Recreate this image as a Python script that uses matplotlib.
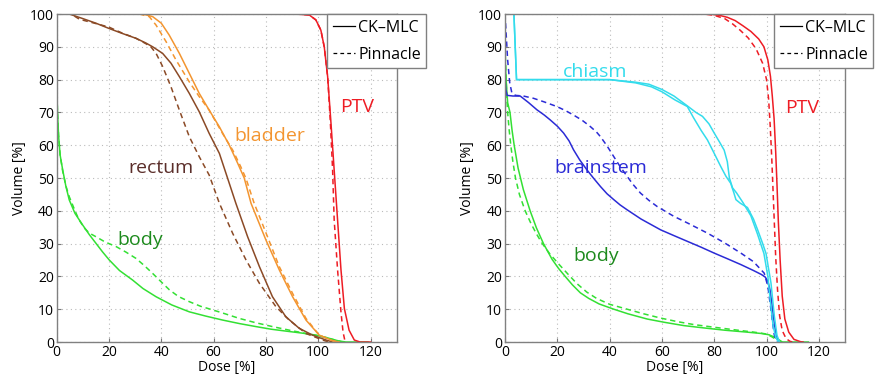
"""Dose-volume histograms: CK-MLC vs Pinnacle, prostate (left) and head (right)."""

import matplotlib
matplotlib.use("Agg")

import matplotlib.pyplot as plt
from matplotlib.lines import Line2D

plt.rcParams["font.family"] = ["Open Sans", "DejaVu Sans"]

# ---- left panel: prostate case (dose %, volume %) ----
ptv_l_ck_x = [0, 91.5, 96.6, 99.1, 101, 102.3, 103.6, 104.8, 106.1, 107.4, 108.7, 110, 111.8, 113.8, 116, 120]
ptv_l_ck_y = [100, 100, 99.7, 98.2, 95.1, 90, 80.9, 67.6, 52.4, 37.2, 22, 10.2, 3.6, 0.6, 0, 0]
ptv_l_pin_x = [0, 91.5, 96.6, 99.1, 101, 102.3, 103.6, 104.6, 105.5, 106.1, 107.4, 108.7, 109.5, 110.3]
ptv_l_pin_y = [100, 100, 99.7, 98.2, 95.1, 90, 80.9, 67.6, 52.4, 37.2, 22, 9.1, 3, 0]

bladder_ck_x = [0, 32.9, 36.7, 40, 43, 46.9, 50.7, 54.5, 58.3, 62.2, 66, 69.2, 71.7, 74.3, 80,
                85.1, 90.2, 95.3, 100.4, 105.5, 108]
bladder_ck_y = [100, 100, 99.2, 97.2, 93.6, 88, 81.9, 75.8, 70.7, 65.6, 60, 54.5, 50, 42.3, 31.1,
                22, 13.8, 6.7, 2.1, 0.4, 0]
bladder_pin_x = [0, 31.6, 35.4, 38, 41.8, 45.6, 50.7, 54.5, 58.3, 63.4, 67.3, 70.4, 72.4, 75.5,
                 80.6, 85.1, 90.2, 95.3, 100.4, 105.5, 108]
bladder_pin_y = [100, 100, 99.2, 96.6, 91.6, 86, 79.3, 74.8, 70.7, 63.6, 58.5, 53.4, 49.8, 42.3,
                 32.1, 23, 14.8, 7.2, 2.1, 0.4, 0]

rectum_ck_x = [0, 4.8, 10, 15, 20, 25, 30.3, 34, 36.7, 40.5, 43.7, 46.9, 50.7, 54.5, 58.3, 62.2,
               65.4, 68.5, 73, 77.5, 82.5, 87.6, 92.7, 97.8, 103, 105.5]
rectum_ck_y = [100, 100, 98.6, 97.2, 95.6, 94.1, 92.6, 91.2, 90, 88, 85, 80.9, 75.8, 70.2, 63.6, 57.5,
               49.8, 42.3, 32.1, 23, 13.8, 7.7, 4.2, 2.1, 0.6, 0]
rectum_pin_x = [0, 5.5, 8.7, 14, 20, 25, 30.3, 34, 36, 38, 40.5, 43.7, 46.9, 50.7, 54.5, 58.3,
                62.2, 67.3, 72.4, 77.5, 83.8, 88.9, 95.3, 101.7, 104]
rectum_pin_y = [100, 100, 98.4, 97.3, 96, 94.2, 92.6, 91, 90, 88, 84, 77.8, 70.7, 62.6, 56.5, 50.9,
                42.3, 33.1, 25, 17.9, 10.8, 6.7, 2.6, 0.6, 0]

body_l_ck_x = [0, 0.3, 0.7, 1.3, 2.3, 3.5, 4.8, 7, 9.9, 12.5, 15, 17.5, 20.1, 24, 29, 33, 38, 44,
               50.7, 57, 63.4, 70, 76.2, 82, 88.9, 94, 99.1, 103, 105.5, 108, 110.6, 119]
body_l_ck_y = [78, 70, 63, 57, 52.4, 47.5, 43.3, 39.2, 35.7, 32.7, 30.1, 27.5, 25, 21.8, 18.9, 16.3,
               13.8, 11.3, 9.2, 7.9, 6.7, 5.6, 4.7, 3.9, 3.2, 2.7, 2.1, 1.4, 0.8, 0.3, 0, 0]
body_l_pin_x = [0, 0.3, 0.7, 1.3, 2.3, 3.5, 4.8, 7, 8.5, 10.6, 12.5, 15, 18.5, 22.7, 26.5, 30.3,
                33.5, 36.7, 40, 43.1, 46.5, 50.7, 55, 59.6, 64, 69.8, 76, 82.5, 89, 95.3, 100,
                104.2, 107, 109.3]
body_l_pin_y = [78, 70, 63, 57, 52, 47.6, 44.3, 40, 37.3, 34.7, 33.2, 32.1, 30.5, 29.1, 27.4, 25.5,
                23.3, 20.9, 18.3, 15.9, 13.9, 12.3, 10.9, 9.8, 8.7, 7.2, 5.9, 4.7, 3.6, 2.6, 1.9,
                1.1, 0.5, 0]

# ---- right panel: head case ----
ptv_r_ck_x = [0, 78, 82, 85, 88, 91, 94, 97, 99, 100.5, 101.5, 102.2, 102.9, 103.5, 104, 104.5,
              105.2, 106, 107, 108.5, 110.5, 113, 114]
ptv_r_ck_y = [100, 100, 99.6, 99, 98, 96.4, 94.7, 92.4, 90, 86, 81, 75, 68, 58, 48, 37,
              25, 14, 7, 3, 0.8, 0.1, 0]
ptv_r_pin_x = [0, 76, 80, 84, 87, 90, 93, 96, 98.5, 100, 100.8, 101.4, 102, 102.5, 103, 103.5,
               104.2, 105, 106, 107.5, 109, 110]
ptv_r_pin_y = [100, 100, 99.6, 98.6, 97, 95, 92.7, 89.4, 85, 80, 74, 66, 56, 46, 36, 26,
               16, 8, 3.5, 1, 0.2, 0]

chiasm_ck_x = [0, 3.4, 4.4, 20, 40, 50, 55, 60, 64.6, 69.7, 73, 75.5, 78, 80, 82, 83.8, 85, 85.8,
               87, 88.5, 91, 94, 96.5, 99, 100.5, 101.5, 102.5, 103.5, 104.5]
chiasm_ck_y = [100, 100, 80, 80, 80, 79.2, 78.6, 77, 75, 72, 70, 68.8, 66.5, 63.7, 61, 58.5, 55,
               50, 47, 45.5, 42.5, 38.5, 33, 27, 20, 12, 5, 1.5, 0]
chiasm_pin_x = [0, 3.4, 4.4, 20, 40, 50, 56, 60, 65, 69.7, 72, 75, 77.4, 80, 82.5, 84.5, 86.3,
                87.5, 88.3, 90, 92.7, 95, 96.6, 98.3, 99.8, 101.7, 103, 104, 105]
chiasm_pin_y = [100, 100, 80, 80, 80, 79, 77.8, 76.3, 73.8, 71.8, 68.5, 64.5, 61.6, 57.5, 53.5,
                50.5, 48.4, 45.5, 43.4, 42.3, 41, 37.5, 34.2, 30.5, 27, 18, 7.8, 2, 0]

brain_ck_x = [0, 0.3, 0.8, 3, 5.8, 9, 12.2, 15, 17.3, 20, 22.4, 24.5, 26.2, 28.5, 31.3, 34, 36.5,
              39, 41.6, 44, 46.7, 52, 59.5, 65, 69.7, 75, 80, 85, 90.2, 95, 98, 99.5, 100.5, 101.3,
              102, 102.6, 103.2, 103.8, 104.5]
brain_ck_y = [80, 77, 75.2, 75, 75, 73, 70.8, 69.2, 67.7, 65.8, 63.7, 61.3, 58.6, 55.6, 52.5, 49.8,
              47.4, 45.2, 43.4, 41.8, 40.3, 37.5, 34.2, 32.3, 30.7, 28.9, 27.1, 25.4, 23.6, 21.8, 20.6,
              19.8, 18.5, 16, 12, 8, 4.5, 1.8, 0]
brain_pin_x = [0, 0.5, 1, 1.8, 2.6, 4, 7, 10.9, 15, 19.8, 23, 26.2, 29.5, 32.6, 35, 36.5, 39,
               41.6, 44, 46.7, 49, 51.8, 55, 58.2, 64.6, 70, 77.4, 84, 90.2, 95, 99.1, 100.5, 101.5,
               102.3, 103, 104]
brain_pin_y = [100, 93, 86, 79, 76, 75.2, 75, 74.3, 73.2, 71.8, 70.6, 69.2, 67.6, 65.7, 64, 62.6,
               59.8, 56.5, 53.5, 50.5, 48, 45.4, 43.2, 41.3, 38.3, 36.2, 33.2, 30.2, 27.1, 24.5, 21,
               17, 11, 6, 2, 0]

body_r_ck_x = [0, 0.4, 1, 1.9, 2.7, 3.5, 5, 7, 9.6, 12, 14.7, 18, 20.5, 23, 25.8, 28.8, 32, 36,
               41.6, 47, 54.4, 61, 68.4, 76, 84, 92.7, 98, 101, 103, 104.5, 106, 116]
body_r_ck_y = [87, 80, 73, 70, 64.5, 60, 53, 46.5, 40, 34.8, 30, 25.2, 22.4, 20, 17.4, 15, 13.3,
               11.6, 10, 8.6, 7, 6, 5, 4.3, 3.6, 3, 2.6, 2.2, 1.5, 0.8, 0, 0]
body_r_pin_x = [0, 0.3, 0.6, 1, 1.6, 2.2, 3, 4, 5.5, 7.7, 10, 12, 14, 17, 20.5, 24.3, 27.5, 31.3,
                35, 40, 46.7, 53, 59.5, 66, 72.3, 80, 88, 95.3, 99.5, 102, 104, 106]
body_r_pin_y = [90, 83, 76, 70, 64.5, 60, 55, 50, 45, 40, 36, 33, 30.3, 27, 23.8, 20.5, 17.8, 15.2,
                13.3, 11.5, 10, 8.6, 7.3, 6.2, 5.3, 4.5, 3.7, 3, 2.5, 1.6, 0.6, 0]

red = "#ee1c24"
orange = "#f39530"
brown = "#8b4a26"
green = "#33e033"
cyan = "#33dcec"
blue = "#2b2bd6"

fig = plt.figure(figsize=(8.78, 3.79), dpi=100)
ax1 = fig.add_axes([0.0646, 0.0976, 0.3872, 0.8654])
ax2 = fig.add_axes([0.5752, 0.0976, 0.3872, 0.8654])

lw = 1.1
dash = (0, (3.5, 2.5))

ax1.plot(body_l_ck_x, body_l_ck_y, color=green, lw=lw)
ax1.plot(body_l_pin_x, body_l_pin_y, color=green, lw=lw, ls=dash)
ax1.plot(rectum_ck_x, rectum_ck_y, color=brown, lw=lw)
ax1.plot(rectum_pin_x, rectum_pin_y, color=brown, lw=lw, ls=dash)
ax1.plot(bladder_ck_x, bladder_ck_y, color=orange, lw=lw)
ax1.plot(bladder_pin_x, bladder_pin_y, color=orange, lw=lw, ls=dash)
ax1.plot(ptv_l_ck_x, ptv_l_ck_y, color=red, lw=lw)
ax1.plot(ptv_l_pin_x, ptv_l_pin_y, color=red, lw=lw, ls=dash)

ax1.text(115, 71.5, "PTV", color=red, fontsize=14, ha="center", va="center")
ax1.text(81.5, 62.8, "bladder", color=orange, fontsize=14, ha="center", va="center")
ax1.text(40, 53, "rectum", color="#5b2e2a", fontsize=14, ha="center", va="center")
ax1.text(32, 31, "body", color="#1d8a1d", fontsize=14, ha="center", va="center")

ax2.plot(body_r_ck_x, body_r_ck_y, color=green, lw=lw)
ax2.plot(body_r_pin_x, body_r_pin_y, color=green, lw=lw, ls=dash)
ax2.plot(brain_ck_x, brain_ck_y, color=blue, lw=lw)
ax2.plot(brain_pin_x, brain_pin_y, color=blue, lw=lw, ls=dash)
ax2.plot(chiasm_ck_x, chiasm_ck_y, color=cyan, lw=lw)
ax2.plot(chiasm_pin_x, chiasm_pin_y, color=cyan, lw=lw)
ax2.plot(ptv_r_ck_x, ptv_r_ck_y, color=red, lw=lw)
ax2.plot(ptv_r_pin_x, ptv_r_pin_y, color=red, lw=lw, ls=dash)

ax2.text(113.5, 71.3, "PTV", color=red, fontsize=14, ha="center", va="center")
ax2.text(34.5, 82.4, "chiasm", color=cyan, fontsize=14, ha="center", va="center")
ax2.text(36.5, 53, "brainstem", color=blue, fontsize=14, ha="center", va="center")
ax2.text(35, 26.3, "body", color="#1d8a1d", fontsize=14, ha="center", va="center")

handles = [Line2D([], [], color="k", lw=0.9),
           Line2D([], [], color="k", lw=0.9, ls=(0, (3, 2.5)))]
for ax, lx in ((ax1, 0.795), (ax2, 0.791)):
    ax.set_xlim(0, 130)
    ax.set_ylim(0, 100)
    ax.set_xticks(range(0, 121, 20))
    ax.set_yticks(range(0, 101, 10))
    ax.grid(True, ls=(0, (1, 3)), color="#bbbbbb", lw=0.8)
    ax.tick_params(direction="in", length=3, color="#777777", labelsize=10, pad=2)
    for s in ax.spines.values():
        s.set_color("#808080")
        s.set_linewidth(1.0)
    ax.set_xlabel("Dose [%]", fontsize=10, labelpad=0)
    ax.set_ylabel("Volume [%]", fontsize=10, labelpad=2)
    leg = ax.legend(handles, ["CK\u2013MLC", "Pinnacle"], loc="upper left",
                    bbox_to_anchor=(lx, 1.0), borderaxespad=0, fontsize=11.5,
                    handlelength=1.4, handletextpad=0.2, fancybox=False,
                    framealpha=1, edgecolor="#808080", borderpad=0.35,
                    labelspacing=0.7)
    leg.get_frame().set_linewidth(1.0)
    leg.set_clip_on(False)

fig.savefig("out.png", dpi=100)
